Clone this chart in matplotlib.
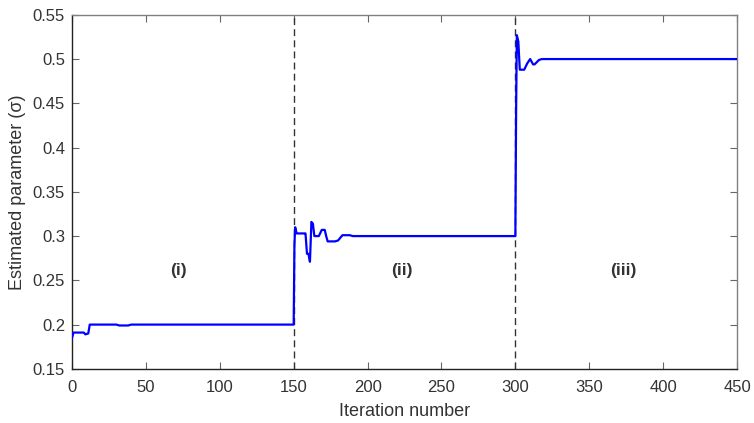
import numpy as np
import matplotlib
matplotlib.use("Agg")
import matplotlib.pyplot as plt

plt.rcParams['font.family'] = ['Liberation Sans', 'DejaVu Sans']

# breakpoints of the estimated parameter trace
iteration = [0, 1, 2, 8, 9, 11, 12, 30, 32, 38, 40, 150,
             150.5, 151, 152, 157, 158, 159, 160, 161, 162, 163, 164, 167, 169, 171, 172,
             173, 178, 180, 183, 188, 190, 300,
             300.5, 301, 302, 303, 306, 308, 310, 312, 313, 316, 318, 330, 450]
sigma = [0.185, 0.191, 0.191, 0.191, 0.189, 0.190, 0.200, 0.200, 0.199, 0.199, 0.200, 0.200,
         0.290, 0.310, 0.303, 0.303, 0.303, 0.280, 0.280, 0.271, 0.316, 0.314, 0.300, 0.300, 0.307, 0.307, 0.300,
         0.294, 0.294, 0.295, 0.301, 0.301, 0.300, 0.300,
         0.440, 0.527, 0.520, 0.488, 0.488, 0.495, 0.500, 0.494, 0.494, 0.499, 0.500, 0.500, 0.500]

change_points = [150, 300]
regions = ['(i)', '(ii)', '(iii)']
region_x = [72, 223, 373]
region_y = 0.261

fig = plt.figure(figsize=(7.54, 4.23), dpi=100, facecolor='w')
ax = fig.add_axes([0.0955, 0.128, 0.882, 0.837])

ax.plot(iteration, sigma, color='#0000ff', lw=1.6, zorder=3)
for cp in change_points:
    ax.axvline(cp, color='#333333', ls=(0, (5, 3)), lw=1.0)
for txt, x in zip(regions, region_x):
    ax.text(x, region_y, txt, ha='center', va='center', fontsize=12.5,
            weight='bold', color='#333333')

ax.set_xlim(0, 450)
ax.set_ylim(0.15, 0.55)
ax.set_xticks(np.arange(0, 451, 50))
ax.set_yticks(np.arange(0.15, 0.551, 0.05))
ax.set_yticklabels(['0.15', '0.2', '0.25', '0.3', '0.35', '0.4', '0.45', '0.5', '0.55'])
ax.tick_params(direction='in', length=5, width=0.8, color='#666666',
               labelsize=12, labelcolor='#333333', top=True, right=True)
ax.tick_params(axis='x', pad=8)
ax.tick_params(axis='y', pad=5)
for side in ['left', 'bottom']:
    ax.spines[side].set_color('#222222')
    ax.spines[side].set_linewidth(1.0)
for side in ['top', 'right']:
    ax.spines[side].set_color('#808080')
    ax.spines[side].set_linewidth(1.0)
ax.set_xlabel('Iteration number', fontsize=13, color='#333333', labelpad=6)
ax.set_ylabel('Estimated parameter (σ)', fontsize=13, color='#333333', labelpad=5)

fig.savefig('out.png', dpi=100)
